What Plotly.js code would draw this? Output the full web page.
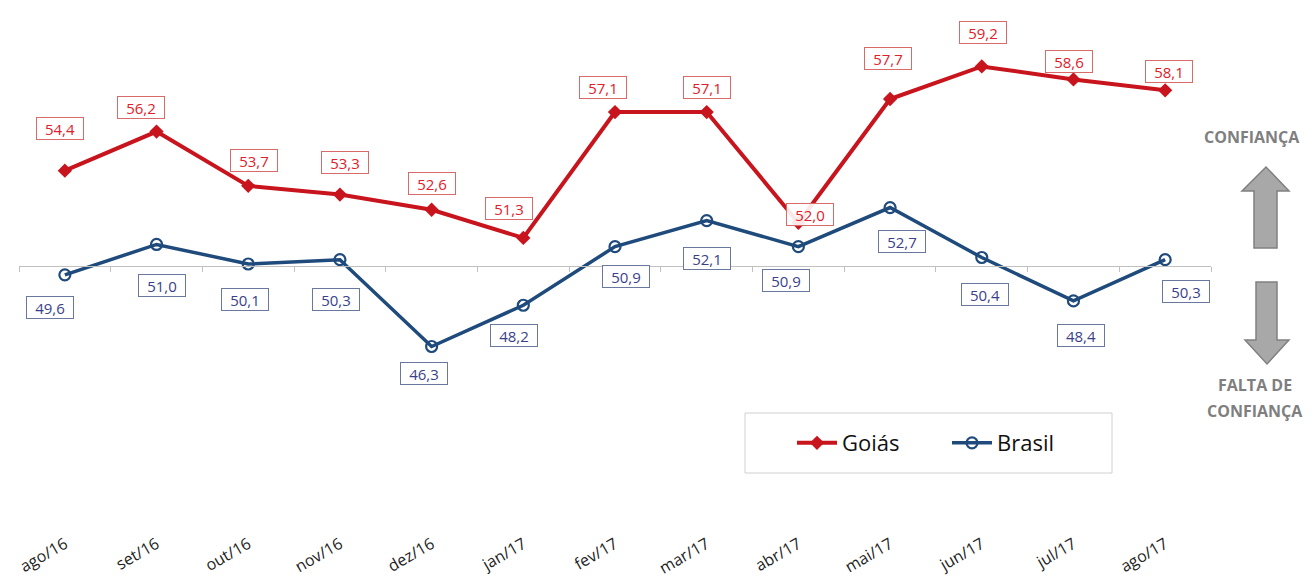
<!DOCTYPE html>
<html>
<head>
<meta charset="utf-8">
<script src="https://cdn.plot.ly/plotly-3.0.1.min.js"></script>
<style>html,body{margin:0;padding:0;background:#fff;}#chart{width:1316px;height:580px;}</style>
</head>
<body>
<div id="chart"></div>
<script>
// ---- data ----
const months = ["ago/16","set/16","out/16","nov/16","dez/16","jan/17","fev/17","mar/17","abr/17","mai/17","jun/17","jul/17","ago/17"];
const goias  = [54.4, 56.2, 53.7, 53.3, 52.6, 51.3, 57.1, 57.1, 52.0, 57.7, 59.2, 58.6, 58.1];
const brasil = [49.6, 51.0, 50.1, 50.3, 46.3, 48.2, 50.9, 52.1, 50.9, 52.7, 50.4, 48.4, 50.3];
const seriesNames = ["Goiás", "Brasil"];
const referenceLevel = 50;

// ---- label placement (pixel offsets from the point) ----
const goiasLabelShift  = [[-5,42],[-16,24],[6,25],[5,32],[0,26],[-14,29],[-12,25],[0,25],[12,8],[-2,41],[1,34],[-4,18],[4,19]];
const brasilLabelShift = [[-15,-33],[5,-41],[-3,-35],[-4,-40],[-8,-27],[-9,-30],[11,-30],[0,-38],[-12,-34],[12,-34],[3,-37],[8,-35],[21,-32]];

// ---- layout geometry ----
const W = 1316, H = 580;
const M = {l: 19, r: 105, t: 10, b: 62};
const yRange = [38.4, 61.8];
const plotW = W - M.l - M.r, plotH = H - M.t - M.b;
const px = x => (x - M.l) / plotW;
const py = y => (H - M.b - y) / plotH;
const pathFrom = pts => pts.map((p, i) => (i ? 'L' : 'M') + px(p[0]) + ',' + py(p[1])).join(' ') + ' Z';

const fmt = v => v.toFixed(1).replace('.', ',');
const FONT = "Open Sans, DejaVu Sans, sans-serif";

const RED = '#c8141c', BLUE = '#1f4a7c';

const traces = [
  {
    x: months, y: goias, name: seriesNames[0], type: 'scatter', mode: 'lines+markers',
    line: {color: RED, width: 4}, marker: {symbol: 'diamond', size: 11, color: RED},
    hoverinfo: 'x+y'
  },
  {
    x: months, y: brasil, name: seriesNames[1], type: 'scatter', mode: 'lines+markers',
    line: {color: BLUE, width: 3.5}, marker: {symbol: 'circle-open', size: 11, color: BLUE, line: {width: 2.2, color: BLUE}},
    hoverinfo: 'x+y'
  },
  { // carrier for the reference-line axis
    x: months, y: brasil, xaxis: 'x2', type: 'scatter', mode: 'lines',
    line: {width: 0}, opacity: 0, showlegend: false, hoverinfo: 'skip'
  }
];

const annotations = [];
months.forEach((m, i) => {
  annotations.push({
    x: m, y: goias[i], xref: 'x', yref: 'y', text: fmt(goias[i]), showarrow: false,
    xshift: goiasLabelShift[i][0], yshift: goiasLabelShift[i][1],
    width: 42, height: 17,
    font: {family: FONT, size: 15, color: '#e0202a'},
    bgcolor: 'rgba(255,255,255,0.9)', bordercolor: '#d86a6a', borderwidth: 1, borderpad: 2
  });
  annotations.push({
    x: m, y: brasil[i], xref: 'x', yref: 'y', text: fmt(brasil[i]), showarrow: false,
    xshift: brasilLabelShift[i][0], yshift: brasilLabelShift[i][1],
    width: 42, height: 17,
    font: {family: FONT, size: 15, color: '#3a3f8a'},
    bgcolor: 'rgba(255,255,255,0.9)', bordercolor: '#6a78a0', borderwidth: 1, borderpad: 2
  });
});

const sideFont = {family: "Open Sans, DejaVu Sans, sans-serif", size: 16, color: '#7f7f7f'};
const side = (x, y, t) => ({xref: 'paper', yref: 'paper', x: px(x), y: py(y), xanchor: 'center', yanchor: 'middle',
  text: '<b>' + t + '</b>', showarrow: false, font: sideFont});
annotations.push(
  side(1252, 137, 'CONFIANÇA'),
  side(1255, 385, 'FALTA DE'),
  side(1255, 411, 'CONFIANÇA')
);

const shapes = [
  { // legend frame
    type: 'rect', xref: 'paper', yref: 'paper',
    x0: px(745), x1: px(1112), y0: py(473), y1: py(413),
    line: {color: '#d0d0d0', width: 1}, fillcolor: 'rgba(0,0,0,0)', layer: 'below'
  },
  { // up arrow
    type: 'path', xref: 'paper', yref: 'paper',
    path: pathFrom([[1266,167],[1289,191],[1277,191],[1277,248],[1254,248],[1254,191],[1242,191]]),
    fillcolor: '#a8a8a8', line: {color: '#808080', width: 1.5}
  },
  { // down arrow
    type: 'path', xref: 'paper', yref: 'paper',
    path: pathFrom([[1256,282],[1277,282],[1277,340],[1289,340],[1267,364],[1245,340],[1256,340]]),
    fillcolor: '#a8a8a8', line: {color: '#808080', width: 1.5}
  }
];

const layout = {
  width: W, height: H,
  margin: M,
  paper_bgcolor: '#fff', plot_bgcolor: '#fff',
  showlegend: true,
  legend: {
    orientation: 'h', x: px(792), xanchor: 'left', y: py(443), yanchor: 'middle',
    font: {family: "Open Sans, DejaVu Sans, sans-serif", size: 22, color: '#111'},
    bgcolor: 'rgba(0,0,0,0)', borderwidth: 0,
    entrywidth: 100, entrywidthmode: 'pixels', itemwidth: 40
  },
  xaxis: {
    type: 'category', range: [-0.5, months.length - 0.5],
    showline: false, showgrid: false, zeroline: false, ticks: '',
    tickangle: -30, tickfont: {family: FONT, size: 16, color: '#222'},
    ticklabelstandoff: 13,
    fixedrange: true
  },
  xaxis2: {
    type: 'category', overlaying: 'x', anchor: 'free',
    position: (referenceLevel - yRange[0]) / (yRange[1] - yRange[0]),
    range: [-0.5, months.length - 0.5],
    showline: true, linecolor: '#c0c0c0', linewidth: 1.2,
    ticks: 'outside', tickson: 'boundaries', ticklen: 5, tickcolor: '#c0c0c0', tickwidth: 1,
    showticklabels: false, showgrid: false, zeroline: false, fixedrange: true
  },
  yaxis: {
    range: yRange, visible: false, showgrid: false, zeroline: false, fixedrange: true
  },
  annotations: annotations,
  shapes: shapes
};

Plotly.newPlot('chart', traces, layout, {displayModeBar: false, staticPlot: true});
</script>
</body>
</html>
